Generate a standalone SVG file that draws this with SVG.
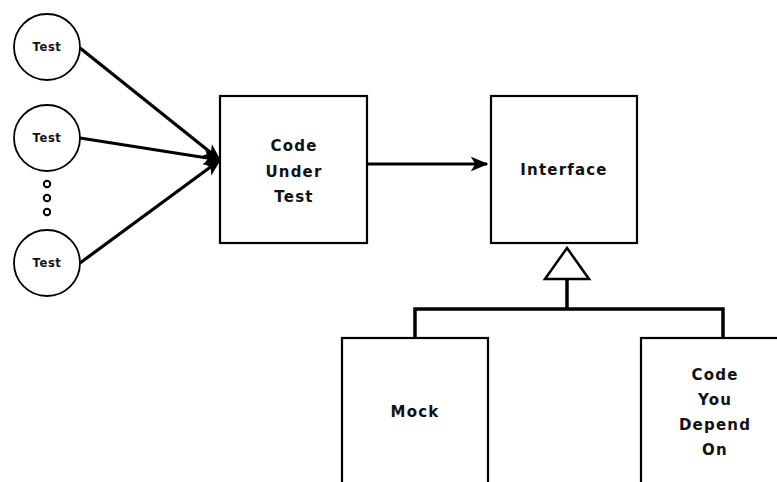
<svg xmlns="http://www.w3.org/2000/svg" width="777" height="482" viewBox="0 0 777 482">
  <style>
    .box { fill: #fff; stroke: #000; stroke-width: 2.2; }
    .node { fill: #fff; stroke: #000; stroke-width: 1.8; }
    .lbl { font-family: "DejaVu Sans", "Liberation Sans", sans-serif; font-weight: bold; font-size: 15px; letter-spacing: 1.2px; fill: #111; text-anchor: middle; dominant-baseline: central; }
    .small { font-size: 11.5px; letter-spacing: 0.6px; }
    .edge { stroke: #000; stroke-width: 3.2; fill: none; }
    .tree { stroke: #000; stroke-width: 3.5; fill: none; }
  </style>
  <defs>
    <marker id="arrow" viewBox="0 0 12 10" refX="11" refY="5" markerWidth="5.5" markerHeight="5" markerUnits="strokeWidth" orient="auto">
      <path d="M0,0 L12,5 L0,10 L3,5 Z" fill="#000"/>
    </marker>
  </defs>
  <rect width="777" height="482" fill="#fff"/>

  <g id="connectors">
    <line class="edge" x1="80" y1="48" x2="220" y2="160" marker-end="url(#arrow)"/>
    <line class="edge" x1="80" y1="138" x2="220" y2="160" marker-end="url(#arrow)"/>
    <line class="edge" x1="80" y1="263" x2="220" y2="160" marker-end="url(#arrow)"/>
    <line class="edge" x1="367" y1="164" x2="487" y2="164" marker-end="url(#arrow)"/>
    <path class="tree" d="M567,279 V309 M415,338 V309 H723 V338"/>
    <polygon points="567,248 545,279 589,279" fill="#fff" stroke="#000" stroke-width="2.5" stroke-linejoin="miter"/>
  </g>

  <g id="test1">
    <circle class="node" cx="47" cy="47" r="33"/>
    <text class="lbl small" x="47" y="47">Test</text>
  </g>
  <g id="test2">
    <circle class="node" cx="47" cy="138" r="33"/>
    <text class="lbl small" x="47" y="138">Test</text>
  </g>
  <g id="ellipsis">
    <circle cx="47" cy="184" r="3.2" fill="none" stroke="#000" stroke-width="2"/>
    <circle cx="47" cy="198" r="3.2" fill="none" stroke="#000" stroke-width="2"/>
    <circle cx="47" cy="212" r="3.2" fill="none" stroke="#000" stroke-width="2"/>
  </g>
  <g id="test3">
    <circle class="node" cx="47" cy="263" r="33"/>
    <text class="lbl small" x="47" y="263">Test</text>
  </g>

  <g id="code-under-test">
    <rect class="box" x="220" y="96" width="147" height="147"/>
    <text class="lbl" x="294" y="146">Code</text>
    <text class="lbl" x="294" y="172">Under</text>
    <text class="lbl" x="294" y="197">Test</text>
  </g>

  <g id="interface">
    <rect class="box" x="491" y="96" width="146" height="147"/>
    <text class="lbl" x="564" y="170">Interface</text>
  </g>

  <g id="mock">
    <rect class="box" x="342" y="338" width="146" height="160"/>
    <text class="lbl" x="415" y="412">Mock</text>
  </g>

  <g id="code-you-depend-on">
    <rect class="box" x="641" y="338" width="160" height="160"/>
    <text class="lbl" x="715" y="375">Code</text>
    <text class="lbl" x="715" y="400">You</text>
    <text class="lbl" x="715" y="425">Depend</text>
    <text class="lbl" x="715" y="450">On</text>
  </g>
</svg>
